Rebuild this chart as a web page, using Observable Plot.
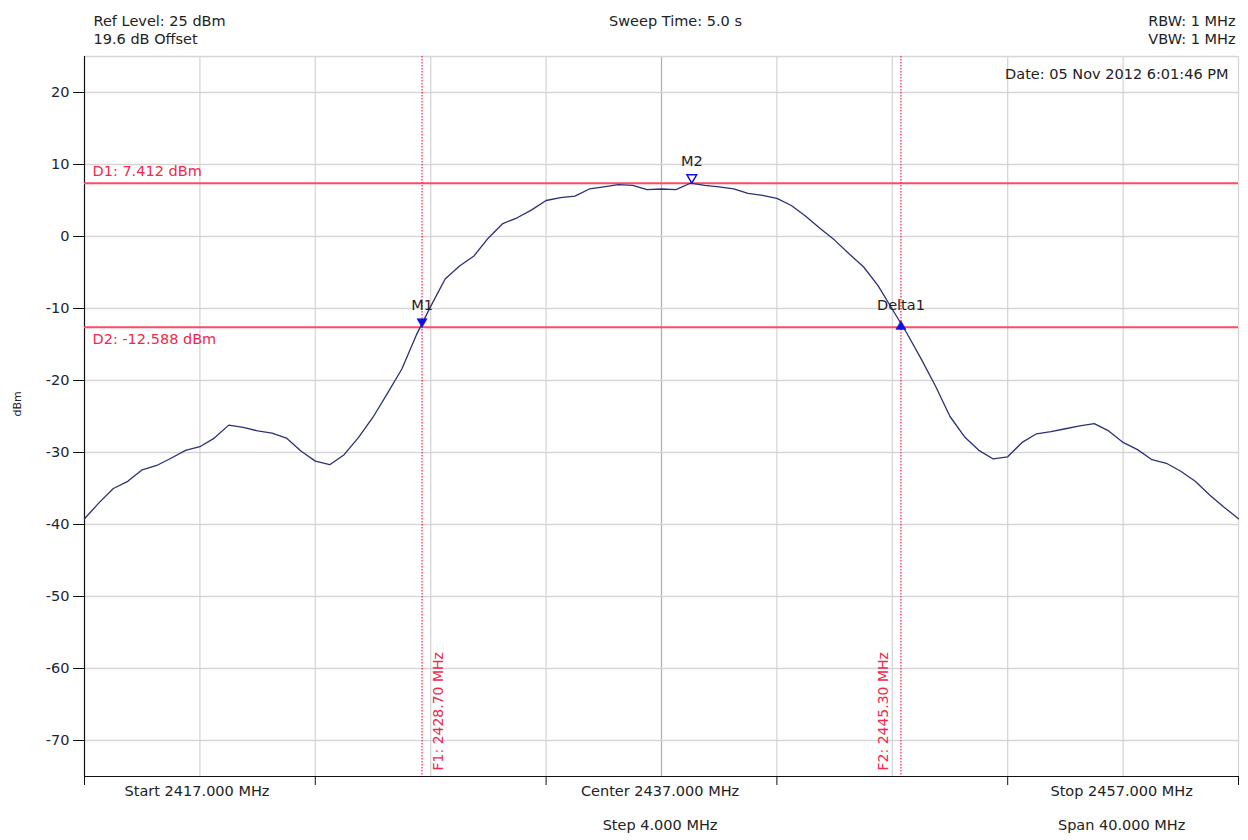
<!DOCTYPE html>
<html>
<head>
<meta charset="utf-8">
<script src="https://cdn.jsdelivr.net/npm/d3@7"></script>
<script src="https://cdn.jsdelivr.net/npm/@observablehq/plot@0.6"></script>
<style>
  html, body { margin: 0; padding: 0; background: #fff; }
  #chart svg { display: block; }
</style>
</head>
<body>
<div id="chart"></div>
<script>
// ---- data ----
const startFreq = 2417, stopFreq = 2457;
const freqStep = 0.5;
const traceLevels = [
  -39.2, -37.0, -35.0, -34.0, -32.4, -31.8, -30.8, -29.7, -29.2, -28.0,
  -26.2, -26.5, -27.0, -27.3, -28.0, -29.8, -31.2, -31.7, -30.3, -27.9,
  -25.1, -21.8, -18.4, -13.7, -9.7, -5.9, -4.1, -2.7, -0.2, 1.8,
  2.6, 3.7, 5.0, 5.4, 5.6, 6.6, 6.9, 7.2, 7.1, 6.5,
  6.6, 6.5, 7.4, 7.1, 6.9, 6.6, 6.0, 5.7, 5.3, 4.3,
  2.8, 1.1, -0.5, -2.4, -4.2, -6.8, -10.1, -13.4, -17.0, -20.8,
  -25.0, -27.8, -29.7, -30.9, -30.6, -28.6, -27.4, -27.1, -26.7, -26.3,
  -26.0, -27.0, -28.6, -29.6, -31.0, -31.5, -32.6, -34.0, -35.9, -37.6,
  -39.2
];
const traceFreqs = traceLevels.map((_, i) => startFreq + i * freqStep);

const yTicks = [20, 10, 0, -10, -20, -30, -40, -50, -60, -70];
const xTickMarks = [2417, 2425, 2433, 2441, 2449, 2457];
const xGrid = [2421, 2425, 2429, 2433, 2441, 2445, 2449, 2453];
const centerFreq = 2437;

const bottomLabels1 = ["Start 2417.000 MHz", "Center 2437.000 MHz", "Stop 2457.000 MHz"];
const bottomLabels1X = [2420.9, 2436.95, 2452.95];
const bottomLabels2 = ["Step 4.000 MHz", "Span 40.000 MHz"];
const bottomLabels2X = [2436.95, 2452.95];

const deltaLineNames = ["D1: 7.412 dBm", "D2: -12.588 dBm"];
const deltaLineLevels = [7.412, -12.588];

const freqMarkerNames = ["F1: 2428.70 MHz", "F2: 2445.30 MHz"];
const freqMarkerFreqs = [2428.70, 2445.30];

const markerNames = ["M1", "M2", "Delta1"];
const markerFreqs = [2428.70, 2438.05, 2445.30];
const markerLevels = [-12.588, 7.412, -12.588];

const headerLeft = ["Ref Level: 25 dBm", "19.6 dB Offset"];
const headerCenter = ["Sweep Time: 5.0 s"];
const headerRight = ["RBW: 1 MHz", "VBW: 1 MHz"];
const dateLabel = ["Date: 05 Nov 2012 6:01:46 PM"];

// ---- build ----
const trace = traceFreqs.map((f, i) => ({f, v: traceLevels[i]}));
const dLines = deltaLineLevels.map((v, i) => ({v, name: deltaLineNames[i]}));
const fLines = freqMarkerFreqs.map((f, i) => ({f, name: freqMarkerNames[i]}));
const markers = markerFreqs.map((f, i) => ({f, v: markerLevels[i], name: markerNames[i]}));

const FONT = "DejaVu Sans, sans-serif";
const FS = 14.5;
const RED_LINE = "#ff4a64";
const RED_TEXT = "#f0284a";
const BLUE = "#1010e0";
const TXT = "#222";

const chart = Plot.plot({
  width: 1248,
  height: 840,
  marginLeft: 84,
  marginRight: 10,
  marginTop: 56,
  marginBottom: 64,
  style: {fontFamily: FONT, fontSize: FS + "px", background: "#fff", color: TXT},
  x: {domain: [startFreq, stopFreq], axis: null},
  y: {domain: [-75, 25], axis: null},
  marks: [
    // grid
    Plot.ruleX(xGrid, {stroke: "#d6d6d6", strokeWidth: 1.3}),
    Plot.ruleX([centerFreq], {stroke: "#b0b0b0", strokeWidth: 1.3}),
    Plot.ruleY(yTicks, {stroke: "#d6d6d6", strokeWidth: 1.3}),
    Plot.ruleY([25], {stroke: "#d6d6d6", strokeWidth: 1.3}),
    Plot.ruleX([stopFreq], {stroke: "#d6d6d6", strokeWidth: 1.3}),
    // axes
    Plot.axisY({ticks: yTicks, tickSize: 11, tickPadding: 4, fontSize: FS, stroke: "#111", fill: "#1c2434",
      label: null, tickFormat: d => `${d}`}),
    Plot.axisX({ticks: xTickMarks, tickSize: 9, tickFormat: () => "", stroke: "#111", label: null}),
    Plot.ruleX([startFreq], {stroke: "#111", strokeWidth: 1.2}),
    Plot.ruleY([-75], {stroke: "#111", strokeWidth: 1.2}),
    Plot.text(["dBm"], {frameAnchor: "left", dx: -67, rotate: -90, fontSize: 11, fill: TXT}),
    // display lines
    Plot.ruleY(dLines, {y: "v", stroke: RED_LINE, strokeWidth: 2}),
    Plot.text(dLines.slice(0, 1), {x: startFreq, y: "v", text: "name", textAnchor: "start", dx: 8, dy: -12, fill: RED_TEXT, fontSize: FS}),
    Plot.text(dLines.slice(1), {x: startFreq, y: "v", text: "name", textAnchor: "start", dx: 8, dy: 12, fill: RED_TEXT, fontSize: FS}),
    // frequency lines
    Plot.ruleX(fLines, {x: "f", stroke: "#ff2050", strokeWidth: 1.2, strokeDasharray: "1.5,1.5"}),
    Plot.text(fLines.slice(0, 1), {x: "f", y: -75, text: "name", rotate: -90, textAnchor: "start", dx: 16, dy: -6, fill: RED_TEXT, fontSize: 14}),
    Plot.text(fLines.slice(1), {x: "f", y: -75, text: "name", rotate: -90, textAnchor: "start", dx: -17, dy: -6, fill: RED_TEXT, fontSize: 14}),
    // trace
    Plot.line(trace, {x: "f", y: "v", stroke: "#2b3175", strokeWidth: 1.3}),
    // markers
    Plot.dot(markers.slice(0, 1), {x: "f", y: "v", symbol: "triangle", rotate: 180, r: 3.8, fill: BLUE, stroke: BLUE, strokeWidth: 0.5, dy: -5.5}),
    Plot.dot(markers.slice(1, 2), {x: "f", y: "v", symbol: "triangle", rotate: 180, r: 3.6, fill: "#fff", stroke: BLUE, strokeWidth: 1.5, dy: -5.5}),
    Plot.dot(markers.slice(2), {x: "f", y: "v", symbol: "triangle", r: 3.8, fill: BLUE, stroke: BLUE, strokeWidth: 0.5, dy: -0.5}),
    Plot.text(markers, {x: "f", y: "v", text: "name", fill: TXT, fontSize: FS, dy: -22}),
    // annotations
    Plot.text(dateLabel, {frameAnchor: "top-right", textAnchor: "end", dx: -10, dy: 12, fontSize: FS, fill: TXT}),
    Plot.text(headerLeft.slice(0, 1), {frameAnchor: "top-left", textAnchor: "start", dx: 9, dy: -41, fontSize: FS, fill: TXT}),
    Plot.text(headerLeft.slice(1), {frameAnchor: "top-left", textAnchor: "start", dx: 9, dy: -23, fontSize: FS, fill: TXT}),
    Plot.text(headerCenter, {frameAnchor: "top", dx: 14, dy: -41, fontSize: FS, fill: TXT}),
    Plot.text(headerRight.slice(0, 1), {frameAnchor: "top-right", textAnchor: "end", dx: -3, dy: -41, fontSize: FS, fill: TXT}),
    Plot.text(headerRight.slice(1), {frameAnchor: "top-right", textAnchor: "end", dx: -3, dy: -23, fontSize: FS, fill: TXT}),
    Plot.text(bottomLabels1, {x: bottomLabels1X, frameAnchor: "bottom", dy: 19, fontSize: FS, fill: TXT}),
    Plot.text(bottomLabels2, {x: bottomLabels2X, frameAnchor: "bottom", dy: 53, fontSize: FS, fill: TXT})
  ]
});
document.getElementById("chart").appendChild(chart);
</script>
</body>
</html>
